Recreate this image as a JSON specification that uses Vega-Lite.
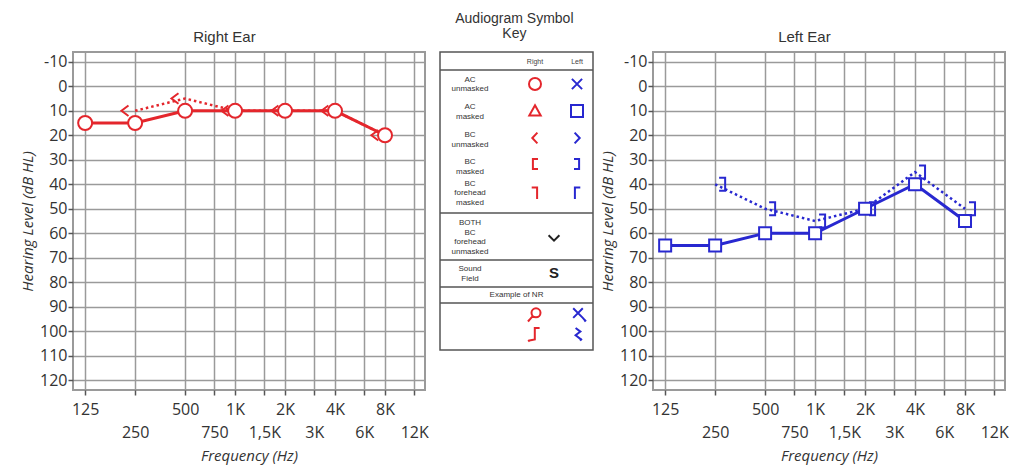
{
  "$schema": "https://vega.github.io/schema/vega-lite/v6.json",
  "padding": {"left": 19, "top": 12, "right": 2, "bottom": 2},
  "background": "white",
  "spacing": 5,
  "config": {
    "view": {"stroke": "#9a9a9a", "strokeWidth": 2},
    "font": "Open Sans",
    "axis": {"labelFont": "Open Sans", "titleFont": "Open Sans", "labelColor": "#333", "titleColor": "#333"}
  },
  "datasets": {
    "audiogram": [
      {"ear": "Right", "test": "AC", "freq": 125, "db": 15},
      {"ear": "Right", "test": "AC", "freq": 250, "db": 15},
      {"ear": "Right", "test": "AC", "freq": 500, "db": 10},
      {"ear": "Right", "test": "AC", "freq": 1000, "db": 10},
      {"ear": "Right", "test": "AC", "freq": 2000, "db": 10},
      {"ear": "Right", "test": "AC", "freq": 4000, "db": 10},
      {"ear": "Right", "test": "AC", "freq": 8000, "db": 20},
      {"ear": "Right", "test": "BC", "freq": 250, "db": 10},
      {"ear": "Right", "test": "BC", "freq": 500, "db": 5},
      {"ear": "Right", "test": "BC", "freq": 1000, "db": 10},
      {"ear": "Right", "test": "BC", "freq": 2000, "db": 10},
      {"ear": "Right", "test": "BC", "freq": 4000, "db": 10},
      {"ear": "Right", "test": "BC", "freq": 8000, "db": 20},
      {"ear": "Left", "test": "AC", "freq": 125, "db": 65},
      {"ear": "Left", "test": "AC", "freq": 250, "db": 65},
      {"ear": "Left", "test": "AC", "freq": 500, "db": 60},
      {"ear": "Left", "test": "AC", "freq": 1000, "db": 60},
      {"ear": "Left", "test": "AC", "freq": 2000, "db": 50},
      {"ear": "Left", "test": "AC", "freq": 4000, "db": 40},
      {"ear": "Left", "test": "AC", "freq": 8000, "db": 55},
      {"ear": "Left", "test": "BC", "freq": 250, "db": 40},
      {"ear": "Left", "test": "BC", "freq": 500, "db": 50},
      {"ear": "Left", "test": "BC", "freq": 1000, "db": 55},
      {"ear": "Left", "test": "BC", "freq": 2000, "db": 50},
      {"ear": "Left", "test": "BC", "freq": 4000, "db": 35},
      {"ear": "Left", "test": "BC", "freq": 8000, "db": 50}
    ],
    "key_box": [{"x": 0, "x2": 15.3, "y": 0, "y2": 29.8}],
    "key_rules": [
      {"x": 0, "x2": 15.3, "y": 1.8},
      {"x": 0, "x2": 15.3, "y": 16.1},
      {"x": 0, "x2": 15.3, "y": 20.8},
      {"x": 0, "x2": 15.3, "y": 23.5},
      {"x": 0, "x2": 15.3, "y": 25.1}
    ],
    "key_header": [
      {"x": 9.5, "y": 1.0, "label": "Right"},
      {"x": 13.7, "y": 1.0, "label": "Left"}
    ],
    "key_labels": [
      {"x": 3.0, "y": 2.75, "label": "AC\nunmasked"},
      {"x": 3.0, "y": 5.5, "label": "AC\nmasked"},
      {"x": 3.0, "y": 8.3, "label": "BC\nunmasked"},
      {"x": 3.0, "y": 11.0, "label": "BC\nmasked"},
      {"x": 3.0, "y": 13.15, "label": "BC\nforehead\nmasked"},
      {"x": 3.0, "y": 17.1, "label": "BOTH\nBC\nforehead\nunmasked"},
      {"x": 3.0, "y": 21.7, "label": "Sound\nField"},
      {"x": 7.65, "y": 24.3, "label": "Example of NR"}
    ],
    "key_sound": [{"x": 11.4, "y": 22.1, "label": "S"}],
    "key_symbols": [
      {"x": 9.5, "y": 3.2, "side": "Right", "symbol": "AC unmasked R"},
      {"x": 13.7, "y": 3.2, "side": "Left", "symbol": "AC unmasked L"},
      {"x": 9.5, "y": 5.9, "side": "Right", "symbol": "AC masked R"},
      {"x": 13.7, "y": 5.9, "side": "Left", "symbol": "AC masked L"},
      {"x": 9.5, "y": 8.6, "side": "Right", "symbol": "BC unmasked R"},
      {"x": 13.7, "y": 8.6, "side": "Left", "symbol": "BC unmasked L"},
      {"x": 9.5, "y": 11.2, "side": "Right", "symbol": "BC masked R"},
      {"x": 13.7, "y": 11.2, "side": "Left", "symbol": "BC masked L"},
      {"x": 9.5, "y": 14.1, "side": "Right", "symbol": "BC forehead masked R"},
      {"x": 13.7, "y": 14.1, "side": "Left", "symbol": "BC forehead masked L"},
      {"x": 11.4, "y": 18.6, "side": "Both", "symbol": "BOTH BC forehead unmasked"},
      {"x": 9.6, "y": 26.2, "side": "Right", "symbol": "NR AC R"},
      {"x": 9.6, "y": 28.2, "side": "Right", "symbol": "NR BC R"},
      {"x": 13.8, "y": 26.2, "side": "Left", "symbol": "NR AC L"},
      {"x": 13.8, "y": 28.2, "side": "Left", "symbol": "NR BC L"}
    ]
  },
  "hconcat": [
    {
      "title": {"text": "Right Ear", "frame": "bounds", "anchor": "middle", "font": "Liberation Sans", "fontSize": 15, "fontWeight": "normal", "color": "#333", "offset": 7},
      "width": 352,
      "height": 338,
      "data": {"name": "audiogram"},
      "transform": [{"filter": "datum.ear == 'Right'"}],
      "encoding": {
        "x": {
          "field": "freq", "type": "quantitative",
          "scale": {"type": "log", "domain": [105.6, 13930], "nice": false},
          "axis": {
            "values": [125, 250, 500, 750, 1000, 1500, 2000, 3000, 4000, 6000, 8000, 12000],
            "labelExpr": "datum.value == 1500 ? '1,5K' : (datum.value >= 1000 ? (datum.value / 1000) + 'K' : '' + datum.value)",
            "labelPadding": {"condition": {"test": "indexof([250, 750, 1500, 3000, 6000, 12000], datum.value) >= 0", "value": 29}, "value": 6},
            "labelFontSize": 16, "labelOverlap": false, "labelFlush": false, "labelBound": false,
            "title": "Frequency (Hz)", "titleFontSize": 15, "titleFontStyle": "italic", "titleFontWeight": "normal", "titlePadding": 8,
            "grid": true, "gridColor": "#9a9a9a", "gridWidth": 1.5,
            "tickColor": "#555", "tickSize": 5, "tickWidth": 1.5, "domain": false
          }
        },
        "y": {
          "field": "db", "type": "quantitative",
          "scale": {"domain": [-14, 124], "reverse": true, "nice": false, "zero": false},
          "axis": {
            "values": [-10, 0, 10, 20, 30, 40, 50, 60, 70, 80, 90, 100, 110, 120],
            "labelExpr": "'' + datum.value",
            "labelFontSize": 16, "labelPadding": 1, "labelFlush": false, "labelOverlap": false,
            "title": "Hearing Level (dB HL)", "titleFontSize": 15, "titleFontStyle": "italic", "titleFontWeight": "normal", "titlePadding": 4,
            "grid": true, "gridColor": "#9a9a9a", "gridWidth": 1.5,
            "tickColor": "#555", "tickSize": 5, "tickWidth": 1.5, "domain": false
          }
        }
      },
      "layer": [
        {"transform": [{"filter": "datum.test == 'BC'"}], "mark": {"type": "line", "color": "#e4262c", "strokeWidth": 2.5, "strokeDash": [2.5, 3]}},
        {"transform": [{"filter": "datum.test == 'AC'"}], "mark": {"type": "line", "color": "#e4262c", "strokeWidth": 3}},
        {"transform": [{"filter": "datum.test == 'BC'"}], "mark": {"type": "point", "shape": "M-0.95,-0.75L-1.95,0L-0.95,0.75", "filled": false, "color": "#e4262c", "strokeWidth": 2, "size": 196, "opacity": 1}},
        {"transform": [{"filter": "datum.test == 'AC'"}], "mark": {"type": "point", "shape": "circle", "filled": true, "fill": "white", "stroke": "#e4262c", "strokeWidth": 2, "size": 196, "opacity": 1, "fillOpacity": 1}}
      ]
    },
    {
      "title": {"text": ["Audiogram Symbol", "Key"], "frame": "bounds", "anchor": "middle", "font": "Liberation Sans", "fontSize": 14, "lineHeight": 15, "fontWeight": "normal", "color": "#333", "offset": 10},
      "width": 158,
      "height": 298,
      "view": {"stroke": null},
      "encoding": {
        "x": {"field": "x", "type": "quantitative", "scale": {"domain": [-0.5, 15.3], "nice": false, "zero": false}, "axis": null},
        "y": {"field": "y", "type": "quantitative", "scale": {"domain": [0, 29.8], "reverse": true, "nice": false, "zero": false}, "axis": null}
      },
      "layer": [
        {"data": {"name": "key_box"}, "mark": {"type": "rect", "fill": "white", "stroke": "#555", "strokeWidth": 1.5}, "encoding": {"x2": {"field": "x2"}, "y2": {"field": "y2"}}},
        {"data": {"name": "key_rules"}, "mark": {"type": "rule", "stroke": "#555", "strokeWidth": 1.3}, "encoding": {"x2": {"field": "x2"}}},
        {"data": {"name": "key_header"}, "mark": {"type": "text", "font": "Liberation Sans", "fontSize": 7, "color": "#444", "align": "center", "baseline": "middle"}, "encoding": {"text": {"field": "label"}}},
        {"data": {"name": "key_labels"}, "mark": {"type": "text", "font": "Liberation Sans", "fontSize": 8, "lineHeight": 9.5, "lineBreak": "\n", "color": "#333", "align": "center", "baseline": "middle"}, "encoding": {"text": {"field": "label"}}},
        {"data": {"name": "key_sound"}, "mark": {"type": "text", "font": "Liberation Sans", "fontSize": 15, "fontWeight": "bold", "color": "#222", "align": "center", "baseline": "middle"}, "encoding": {"text": {"field": "label"}}},
        {
          "data": {"name": "key_symbols"},
          "mark": {"type": "point", "filled": false, "strokeWidth": 2, "size": 144, "opacity": 1},
          "encoding": {
            "shape": {
              "field": "symbol", "type": "nominal", "legend": null,
              "scale": {
                "domain": ["AC unmasked R", "AC unmasked L", "AC masked R", "AC masked L", "BC unmasked R", "BC unmasked L", "BC masked R", "BC masked L", "BC forehead masked R", "BC forehead masked L", "BOTH BC forehead unmasked", "NR AC R", "NR BC R", "NR AC L", "NR BC L"],
                "range": [
                  "circle",
                  "M-0.85,-0.85L0.85,0.85M-0.85,0.85L0.85,-0.85",
                  "M0,-0.95L0.95,0.75L-0.95,0.75Z",
                  "square",
                  "M0.4,-0.9L-0.45,0L0.4,0.9",
                  "M-0.4,-0.9L0.45,0L-0.4,0.9",
                  "M0.5,-0.85L-0.35,-0.85L-0.35,0.85L0.5,0.85",
                  "M-0.5,-0.85L0.35,-0.85L0.35,0.85L-0.5,0.85",
                  "M-0.55,-0.9L0.35,-0.9L0.35,1",
                  "M0.55,-0.9L-0.35,-0.9L-0.35,1",
                  "M-0.9,-0.45L0,0.45L0.9,-0.45",
                  "M0.75,-0.2A0.75,0.75 0 1,1 -0.75,-0.2A0.75,0.75 0 1,1 0.75,-0.2M-0.55,0.35L-1.2,1.1M-1.35,1L-1.1,1.25",
                  "M0.6,-1L-0.2,-1L-0.2,0.9L-1.1,1.1M-1.3,1L-1.05,1.25",
                  "M-0.8,-0.95L0.8,0.65M-0.8,0.65L0.8,-0.95M0.8,0.65L1.2,1.1M1.05,1.25L1.35,1",
                  "M-0.4,-1L0.4,-0.4L-0.4,0.2L0.5,0.9M0.35,1.1L0.65,0.8"
                ]
              }
            },
            "color": {"field": "side", "type": "nominal", "legend": null, "scale": {"domain": ["Right", "Left", "Both"], "range": ["#e4262c", "#2828d0", "#222222"]}}
          }
        }
      ]
    },
    {
      "title": {"text": "Left Ear", "frame": "bounds", "anchor": "middle", "font": "Liberation Sans", "fontSize": 15, "fontWeight": "normal", "color": "#333", "offset": 7},
      "width": 352,
      "height": 338,
      "data": {"name": "audiogram"},
      "transform": [{"filter": "datum.ear == 'Left'"}],
      "encoding": {
        "x": {
          "field": "freq", "type": "quantitative",
          "scale": {"type": "log", "domain": [105.6, 13930], "nice": false},
          "axis": {
            "values": [125, 250, 500, 750, 1000, 1500, 2000, 3000, 4000, 6000, 8000, 12000],
            "labelExpr": "datum.value == 1500 ? '1,5K' : (datum.value >= 1000 ? (datum.value / 1000) + 'K' : '' + datum.value)",
            "labelPadding": {"condition": {"test": "indexof([250, 750, 1500, 3000, 6000, 12000], datum.value) >= 0", "value": 29}, "value": 6},
            "labelFontSize": 16, "labelOverlap": false, "labelFlush": false, "labelBound": false,
            "title": "Frequency (Hz)", "titleFontSize": 15, "titleFontStyle": "italic", "titleFontWeight": "normal", "titlePadding": 8,
            "grid": true, "gridColor": "#9a9a9a", "gridWidth": 1.5,
            "tickColor": "#555", "tickSize": 5, "tickWidth": 1.5, "domain": false
          }
        },
        "y": {
          "field": "db", "type": "quantitative",
          "scale": {"domain": [-14, 124], "reverse": true, "nice": false, "zero": false},
          "axis": {
            "values": [-10, 0, 10, 20, 30, 40, 50, 60, 70, 80, 90, 100, 110, 120],
            "labelExpr": "'' + datum.value",
            "labelFontSize": 16, "labelPadding": 1, "labelFlush": false, "labelOverlap": false,
            "title": "Hearing Level (dB HL)", "titleFontSize": 15, "titleFontStyle": "italic", "titleFontWeight": "normal", "titlePadding": 4,
            "grid": true, "gridColor": "#9a9a9a", "gridWidth": 1.5,
            "tickColor": "#555", "tickSize": 5, "tickWidth": 1.5, "domain": false
          }
        }
      },
      "layer": [
        {"transform": [{"filter": "datum.test == 'BC'"}], "mark": {"type": "line", "color": "#2828d0", "strokeWidth": 2.5, "strokeDash": [2.5, 3]}},
        {"transform": [{"filter": "datum.test == 'AC'"}], "mark": {"type": "line", "color": "#2828d0", "strokeWidth": 3}},
        {"transform": [{"filter": "datum.test == 'AC'"}], "mark": {"type": "point", "shape": "square", "filled": true, "fill": "white", "stroke": "#2828d0", "strokeWidth": 2, "size": 144, "opacity": 1, "fillOpacity": 1}},
        {"transform": [{"filter": "datum.test == 'BC'"}], "mark": {"type": "point", "shape": "M0.57,-0.93L1.43,-0.93L1.43,0.93L0.57,0.93", "filled": false, "color": "#2828d0", "strokeWidth": 2, "size": 196, "opacity": 1}}
      ]
    }
  ]
}
